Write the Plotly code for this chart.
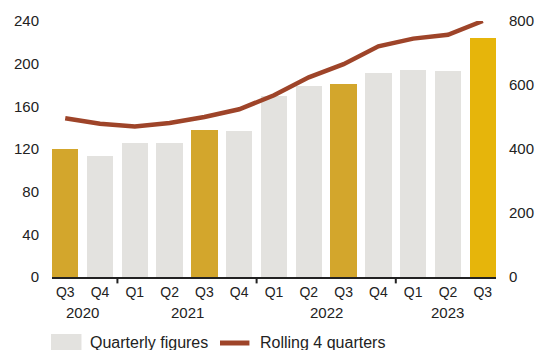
import plotly.graph_objects as go

# Quarterly values (left axis) and rolling 4-quarter totals (right axis)
quarters = ["Q3", "Q4", "Q1", "Q2", "Q3", "Q4", "Q1", "Q2", "Q3", "Q4", "Q1", "Q2", "Q3"]
years = ["2020", "2021", "2022", "2023"]
year_centers = [0.5, 3.5, 7.5, 11]
year_dividers = [1.5, 5.5, 9.5]
quarterly = [120, 113, 126, 126, 138, 137, 170, 179, 181, 191, 194, 193, 224]
rolling = [496, 479, 470, 481, 500, 524, 568, 624, 665, 721, 745, 757, 800]

GREY = "#E3E2DF"
GOLD = "#D3A62C"
YELLOW = "#E6B50B"
RUST = "#9E4429"
TEXT = "#222222"
FONT = "Liberation Sans, Arial, sans-serif"

x = list(range(len(quarterly)))
bar_colors = []
for i, q in enumerate(quarters):
    if i == len(quarters) - 1:
        bar_colors.append(YELLOW)
    elif q == "Q3":
        bar_colors.append(GOLD)
    else:
        bar_colors.append(GREY)

fig = go.Figure()
fig.add_trace(go.Bar(
    x=x, y=quarterly, width=0.76, marker=dict(color=bar_colors, line=dict(width=0)),
    name="Quarterly figures", showlegend=False, hoverinfo="skip",
))
fig.add_trace(go.Scatter(
    x=x, y=rolling, yaxis="y2", mode="lines",
    line=dict(color=RUST, width=4.5),
    name="Rolling 4 quarters", showlegend=False, hoverinfo="skip",
))

# Year labels under the quarter labels
for yr, xc in zip(years, year_centers):
    fig.add_annotation(x=xc, xref="x", y=-0.14, yref="paper", text=yr,
                       showarrow=False, font=dict(size=15, color=TEXT, family=FONT),
                       yanchor="middle")

# Small ticks marking the year boundaries
for xd in year_dividers:
    fig.add_shape(type="line", xref="x", yref="paper", x0=xd, x1=xd, y0=0, y1=-0.025,
                  line=dict(color=TEXT, width=2))

# Legend drawn with swatches and text
fig.add_shape(type="rect", xref="paper", yref="paper",
              x0=(51 - 52) / 452, x1=(82 - 52) / 452,
              y0=(277 - 350) / 256, y1=(277 - 334) / 256,
              fillcolor=GREY, line=dict(width=0))
fig.add_annotation(x=(89 - 52) / 452, xref="paper", y=(277 - 342) / 256, yref="paper",
                   text="Quarterly figures", showarrow=False, xanchor="left", yanchor="middle",
                   font=dict(size=16, color=TEXT, family=FONT))
fig.add_shape(type="line", xref="paper", yref="paper",
              x0=(223 - 52) / 452, x1=(253 - 52) / 452,
              y0=(277 - 343) / 256, y1=(277 - 343) / 256,
              line=dict(color=RUST, width=5))
fig.add_annotation(x=(262 - 52) / 452, xref="paper", y=(277 - 342) / 256, yref="paper",
                   text="Rolling 4 quarters", showarrow=False, xanchor="left", yanchor="middle",
                   font=dict(size=16, color=TEXT, family=FONT))

fig.update_layout(
    width=546, height=350,
    margin=dict(l=52, r=42, t=21, b=73),
    paper_bgcolor="white", plot_bgcolor="white",
    font=dict(family=FONT, color=TEXT, size=15),
    bargap=0,
    xaxis=dict(
        range=[-0.38, 12.38], tickmode="array", tickvals=x, ticktext=quarters,
        showline=True, linecolor=TEXT, linewidth=2, showgrid=False, zeroline=False,
        ticks="", tickfont=dict(size=14, color=TEXT), ticklabelstandoff=1,
    ),
    yaxis=dict(
        range=[0, 240], dtick=40, showgrid=False, zeroline=False, showline=False,
        ticks="", tickfont=dict(size=15, color=TEXT), ticklabelstandoff=12,
    ),
    yaxis2=dict(
        range=[0, 800], dtick=200, overlaying="y", side="right", showgrid=False,
        zeroline=False, showline=False, ticks="",
        tickfont=dict(size=15, color=TEXT), ticklabelstandoff=12,
    ),
)

fig.write_html("out.html")
